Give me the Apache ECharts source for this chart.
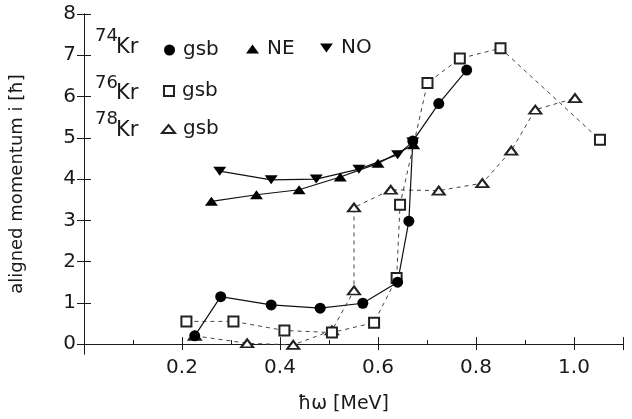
<!DOCTYPE html>
<html><head><meta charset="utf-8">
<script src="https://cdn.jsdelivr.net/npm/echarts@6/dist/echarts.min.js"></script>
<style>html,body{margin:0;padding:0;background:#fff}#c{width:632px;height:419px}</style>
</head><body><div id="c"></div>
<script>
// ---- data ----
const kr74GsbX = [0.226, 0.279, 0.382, 0.482, 0.569, 0.640, 0.663, 0.671, 0.724, 0.781];
const kr74GsbY = [0.20, 1.15, 0.95, 0.87, 0.99, 1.50, 2.98, 4.92, 5.83, 6.64];
const kr74NEX = [0.260, 0.352, 0.439, 0.523, 0.600, 0.673];
const kr74NEY = [3.46, 3.62, 3.74, 4.05, 4.38, 4.83];
const kr74NOX = [0.277, 0.382, 0.474, 0.561, 0.640, 0.671];
const kr74NOY = [4.19, 3.98, 4.00, 4.24, 4.59, 4.90];
const kr76GsbX = [0.209, 0.305, 0.409, 0.506, 0.592, 0.638, 0.645, 0.701, 0.767, 0.850, 1.053];
const kr76GsbY = [0.55, 0.55, 0.33, 0.28, 0.52, 1.60, 3.38, 6.33, 6.92, 7.17, 4.95];
const kr78GsbX = [0.226, 0.333, 0.427, 0.506, 0.551, 0.551, 0.626, 0.724, 0.813, 0.872, 0.921, 1.002];
const kr78GsbY = [0.20, 0.02, -0.02, 0.33, 1.30, 3.31, 3.74, 3.72, 3.90, 4.69, 5.68, 5.96];
const yTickValues = [0, 1, 2, 3, 4, 5, 6, 7, 8];
const xLabelValues = [0.2, 0.4, 0.6, 0.8, 1.0];
const xTitle = 'ħω [MeV]';
const yTitle = 'aligned momentum i [ħ]';

const pairs = (xs, ys) => xs.map((x, i) => [x, ys[i]]);
const FONT = '"DejaVu Sans", Verdana, sans-serif';
const INK = '#1a1a1a';

const chart = echarts.init(document.getElementById('c'), null, {renderer: 'canvas'});

function mkLegend(name, text, left, top, w, h, icon) {
  return {
    data: [{name: name, icon: icon}],
    left: left, top: top, padding: 0,
    itemWidth: w, itemHeight: h,
    formatter: () => text,
    selectedMode: false,
    textStyle: {fontFamily: FONT, fontSize: 20, color: INK, lineHeight: 20, padding: [0, 0, 0, 3]}
  };
}

const lineBase = {type: 'line', animation: false, z: 3};

chart.setOption({
  backgroundColor: '#fff',
  animation: false,
  grid: {left: 82, right: 9, top: 14, bottom: 57},
  xAxis: [{
    type: 'value', min: 0, max: 1.1, interval: 0.2,
    name: xTitle, nameLocation: 'middle', nameGap: 41,
    nameTextStyle: {fontFamily: FONT, fontSize: 19, color: INK, padding: [0, 20, 0, 0]},
    axisLine: {show: true, lineStyle: {color: INK, width: 1}},
    axisTick: {show: true, inside: true, length: 7, lineStyle: {color: INK}},
    minorTick: {show: true, splitNumber: 2, length: 4, lineStyle: {color: INK}},
    axisLabel: {fontFamily: FONT, fontSize: 20, color: INK, margin: 4,
      customValues: xLabelValues,
      formatter: v => v.toFixed(1)},
    splitLine: {show: false}
  }, {
    type: 'value', position: 'top', min: 0, max: 1.1, interval: 0.2,
    axisLine: {show: true, lineStyle: {color: INK, width: 1}},
    axisTick: {show: true, inside: true, length: 6, lineStyle: {color: INK}},
    axisLabel: {show: false}, splitLine: {show: false}
  }],
  yAxis: [{
    type: 'value', min: -0.24, max: 8,
    name: yTitle, nameLocation: 'middle', nameGap: 58, nameRotate: 90,
    nameTextStyle: {fontFamily: FONT, fontSize: 18, color: INK, padding: [0, 0, 0, 0]},
    axisLine: {show: true, lineStyle: {color: INK, width: 1}},
    axisTick: {show: true, inside: true, length: 7, customValues: yTickValues, lineStyle: {color: INK}},
    axisLabel: {fontFamily: FONT, fontSize: 20, color: INK, margin: 8, customValues: yTickValues},
    splitLine: {show: false}
  }, {
    type: 'value', position: 'right', min: -0.24, max: 8,
    axisLine: {show: true, lineStyle: {color: INK, width: 1}},
    axisTick: {show: true, inside: true, length: 7, customValues: yTickValues, lineStyle: {color: INK}},
    axisLabel: {show: false}, splitLine: {show: false}
  }],
  legend: [
    mkLegend('74Kr gsb', 'gsb', 164, 40, 11, 11, 'circle'),
    mkLegend('74Kr NE', 'NE', 246, 39, 13, 9, 'triangle'),
    mkLegend('74Kr NO', 'NO', 320, 38, 13, 9, 'path://M0,0L10,0L5,7Z'),
    mkLegend('76Kr gsb', 'gsb', 163, 81, 10, 10, 'emptyRect'),
    mkLegend('78Kr gsb', 'gsb', 161, 119, 13, 8, 'emptyTriangle')
  ],
  graphic: [
    {type: 'text', x: 95, y: 36, style: {text: '74', font: '18px ' + FONT, fill: INK, textVerticalAlign: 'middle'}},
    {type: 'text', x: 116, y: 48, style: {text: 'Kr', font: '21px ' + FONT, fill: INK, textVerticalAlign: 'middle'}},
    {type: 'text', x: 95, y: 83, style: {text: '76', font: '18px ' + FONT, fill: INK, textVerticalAlign: 'middle'}},
    {type: 'text', x: 116, y: 94, style: {text: 'Kr', font: '21px ' + FONT, fill: INK, textVerticalAlign: 'middle'}},
    {type: 'text', x: 95, y: 119, style: {text: '78', font: '18px ' + FONT, fill: INK, textVerticalAlign: 'middle'}},
    {type: 'text', x: 116, y: 131, style: {text: 'Kr', font: '21px ' + FONT, fill: INK, textVerticalAlign: 'middle'}}
  ],
  series: [
    Object.assign({}, lineBase, {
      name: '78Kr gsb', data: pairs(kr78GsbX, kr78GsbY),
      symbol: 'emptyTriangle', symbolSize: [12, 8],
      itemStyle: {color: '#222', borderWidth: 1},
      lineStyle: {color: '#444', width: 1, type: [4, 4]}
    }),
    Object.assign({}, lineBase, {
      name: '76Kr gsb', data: pairs(kr76GsbX, kr76GsbY),
      symbol: 'emptyRect', symbolSize: 10,
      itemStyle: {color: '#222', borderWidth: 1},
      lineStyle: {color: '#444', width: 1, type: [4, 4]}
    }),
    Object.assign({}, lineBase, {
      name: '74Kr NE', data: pairs(kr74NEX, kr74NEY),
      symbol: 'triangle', symbolSize: [13, 9],
      itemStyle: {color: '#000'},
      lineStyle: {color: '#111', width: 1.2}
    }),
    Object.assign({}, lineBase, {
      name: '74Kr NO', data: pairs(kr74NOX, kr74NOY),
      symbol: 'triangle', symbolRotate: 180, symbolSize: [13, 9],
      itemStyle: {color: '#000'},
      lineStyle: {color: '#111', width: 1.2}
    }),
    Object.assign({}, lineBase, {
      name: '74Kr gsb', data: pairs(kr74GsbX, kr74GsbY),
      symbol: 'circle', symbolSize: 11,
      itemStyle: {color: '#000'},
      lineStyle: {color: '#111', width: 1.2}
    })
  ]
});
</script></body></html>
